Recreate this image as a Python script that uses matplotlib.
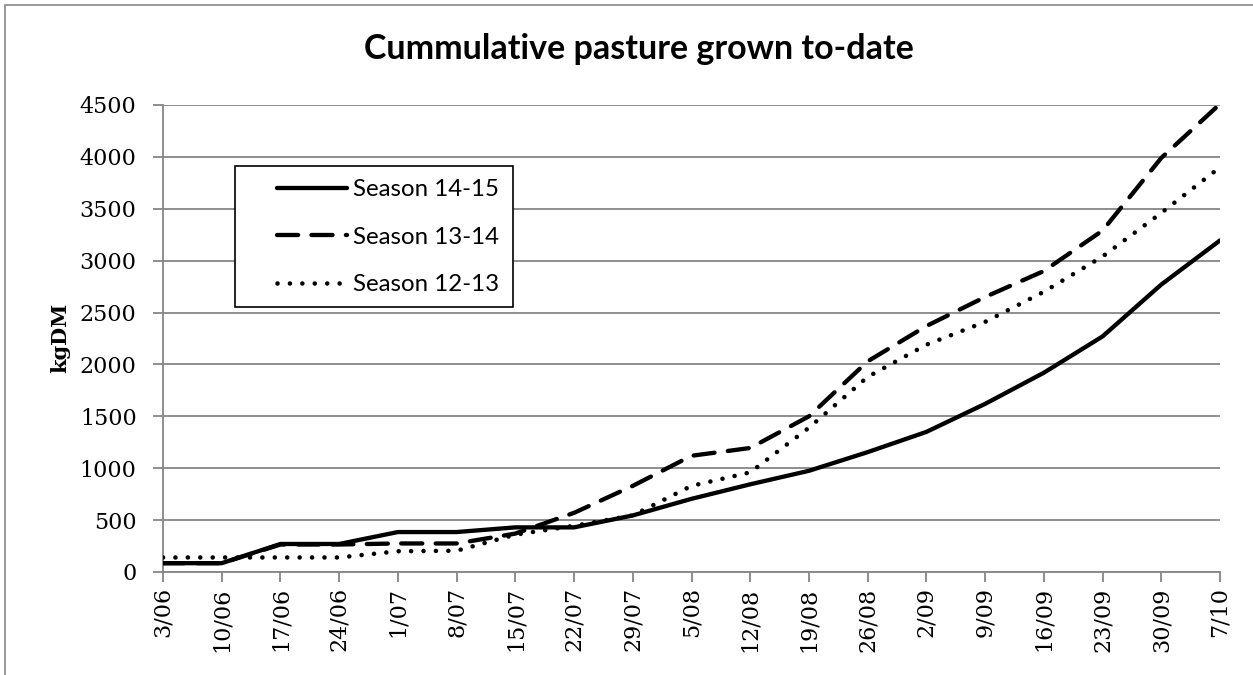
import matplotlib
matplotlib.use("Agg")
import matplotlib.pyplot as plt
from matplotlib.patches import Rectangle

# weekly dates along the x axis
dates = ["3/06", "10/06", "17/06", "24/06", "1/07", "8/07", "15/07", "22/07",
         "29/07", "5/08", "12/08", "19/08", "26/08", "2/09", "9/09", "16/09",
         "23/09", "30/09", "7/10"]

# cumulative kgDM per season
season_14_15 = [85, 85, 270, 270, 385, 385, 430, 430, 545, 705, 845, 975,
                1155, 1350, 1620, 1920, 2270, 2770, 3195]
season_13_14 = [85, 85, 265, 265, 275, 275, 370, 570, 830, 1120, 1195, 1500,
                2030, 2370, 2650, 2900, 3290, 3990, 4510]
season_12_13 = [140, 140, 140, 140, 200, 205, 360, 445, 545, 830, 960, 1390,
                1880, 2190, 2410, 2700, 3040, 3460, 3900]

yticks = [0, 500, 1000, 1500, 2000, 2500, 3000, 3500, 4000, 4500]

W, H = 1253, 675
fig = plt.figure(figsize=(W / 100, H / 100), dpi=100)
ax = fig.add_axes([163 / W, 1 - 572 / H, (1220 - 163) / W, (572 - 105) / H])

grey = "#868686"
x = list(range(len(dates)))

ax.plot(x, season_14_15, color="black", lw=3.1, solid_capstyle="round",
        label="Season 14-15", zorder=5)
ax.plot(x, season_13_14, color="black", lw=3.1, dashes=(4.9, 3.1),
        dash_capstyle="round", label="Season 13-14", zorder=4)
ax.plot(x, season_12_13, color="black", lw=3.3, dashes=(0.01, 2.7),
        dash_capstyle="round", label="Season 12-13", zorder=3)

ax.set_xlim(0, len(dates) - 1)
ax.set_ylim(0, 4500)
ax.set_yticks(yticks)
ax.set_xticks(x)
ax.set_xticklabels(dates, rotation=90)
ax.grid(axis="y", color=grey, lw=1.3)
ax.set_axisbelow(True)

for s in ["top", "right"]:
    ax.spines[s].set_visible(False)
for s in ["left", "bottom"]:
    ax.spines[s].set_color(grey)
    ax.spines[s].set_linewidth(1.3)
ax.tick_params(axis="both", direction="out", length=7, width=1.3, color=grey,
               labelsize=16)
ax.tick_params(axis="y", pad=12)
ax.tick_params(axis="x", pad=4)
for lab in ax.get_xticklabels() + ax.get_yticklabels():
    lab.set_fontfamily("DejaVu Serif")

ax.set_ylabel("kgDM", fontfamily="DejaVu Serif", fontweight="bold",
              fontsize=15)
ax.yaxis.set_label_coords((70 - 163) / (1220 - 163), (572 - 338) / (572 - 105))

fig.text(0.510, 1 - 49 / H, "Cummulative pasture grown to-date",
         ha="center", va="center", fontfamily="Lato", fontweight="bold",
         fontsize=24.5)

# legend box drawn separately (Excel puts more room left of the handles)
ax.add_patch(Rectangle((235 / W, 1 - 307 / H), (513 - 235) / W, (307 - 166) / H,
                       transform=fig.transFigure, fill=True, facecolor="white",
                       edgecolor="black", lw=1.2, zorder=6))
leg = ax.legend(loc="upper left", bbox_to_anchor=(277 / W, 1 - 179 / H),
                bbox_transform=fig.transFigure, frameon=False,
                prop={"family": "Lato", "size": 17.3}, handlelength=2.9,
                handletextpad=0.25, borderpad=0, labelspacing=1.11,
                borderaxespad=0)
leg.set_zorder(7)

# outer chart border
fig.patches.append(Rectangle((5 / W, -0.05), 1.2, 1 - 5 / H + 0.05,
                             transform=fig.transFigure, fill=False,
                             edgecolor=grey, lw=1.2))

fig.savefig("out.png", dpi=100)
